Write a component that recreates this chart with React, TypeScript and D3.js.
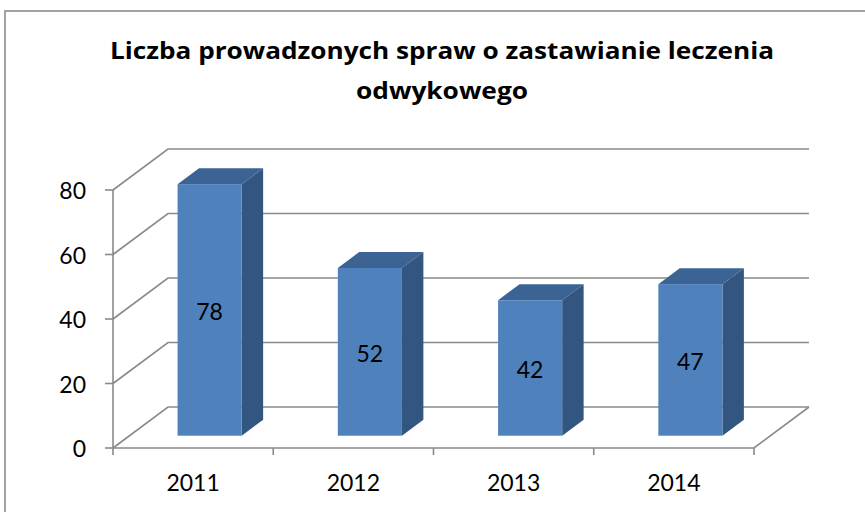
import React from 'react';
import * as d3 from 'd3';

const categories = ['2011', '2012', '2013', '2014'];
const values = [78, 52, 42, 47];
const yTicks = [0, 20, 40, 60, 80];
const titleLines = ['Liczba prowadzonych spraw o zastawianie leczenia', 'odwykowego'];
const titleWidths = [664, 172];

const W = 865;
const H = 512;
const FONT = 'Lato, "Open Sans", sans-serif';
const TITLE_FONT = '"Open Sans", Lato, sans-serif';
const GRID = '#8a8a8a';

export default function App() {
  const x = d3.scaleBand<string>().domain(categories).range([113, 754]).paddingInner(0.6).paddingOuter(0.3);
  const step = x.step();
  const y = d3.scaleLinear().domain([0, 80]).range([448, 190]);
  const dx = 55;
  const dy = -41;
  const f1 = 0.3;
  const f2 = 0.69;
  const x0 = 113;
  const x1 = 754;

  const grid = yTicks.map((t) => {
    const yf = y(t);
    return (
      <g key={'g' + t}>
        <polyline
          points={`${x0},${yf} ${x0 + dx},${yf + dy} ${x1 + dx},${yf + dy}`}
          fill="none"
          stroke={GRID}
          strokeWidth={1.6}
        />
        <line x1={x0 - 8} x2={x0} y1={yf} y2={yf} stroke={GRID} strokeWidth={1.6} />
        <text
          x={86}
          y={yf}
          textAnchor="end"
          dominantBaseline="central"
          fontFamily={FONT}
          fontSize={23}
          fill="#000"
        >
          {t}
        </text>
      </g>
    );
  });

  const bounds = [x0, ...categories.map((c, i) => x0 + step * (i + 1))];

  const bars = categories.map((c, i) => {
    const v = values[i];
    const bw = x.bandwidth();
    const bx = (x(c) as number) + f1 * dx;
    const byTop = y(v) + f1 * dy;
    const byBot = y(0) + f1 * dy;
    const ddx = (f2 - f1) * dx;
    const ddy = (f2 - f1) * dy;
    return (
      <g key={'b' + c}>
        <polygon
          points={`${bx + bw},${byTop} ${bx + bw + ddx},${byTop + ddy} ${bx + bw + ddx},${byBot + ddy} ${bx + bw},${byBot}`}
          fill="#335581"
        />
        <polygon
          points={`${bx},${byTop} ${bx + ddx},${byTop + ddy} ${bx + bw + ddx},${byTop + ddy} ${bx + bw},${byTop}`}
          fill="#3b6393"
        />
        <rect x={bx} y={byTop} width={bw} height={byBot - byTop} fill="#4f81bd" />
        <text
          x={bx + bw / 2}
          y={(byTop + byBot) / 2 + 1}
          textAnchor="middle"
          dominantBaseline="central"
          fontFamily={FONT}
          fontSize={23}
          fill="#000"
        >
          {v}
        </text>
      </g>
    );
  });

  return (
    <svg width={W} height={H} style={{ position: 'absolute', left: 0, top: 0, background: '#fff' }}>
      <rect x={0} y={0} width={W} height={H} fill="#fff" />
      <rect x={5} y={11} width={1000} height={800} fill="#fff" stroke={GRID} strokeWidth={1.6} />
      {titleLines.map((t, i) => (
        <text
          key={'t' + i}
          x={442}
          y={59 + i * 40}
          textAnchor="middle"
          fontFamily={TITLE_FONT}
          fontWeight={700}
          fontSize={24}
          textLength={titleWidths[i]}
          lengthAdjust="spacingAndGlyphs"
          fill="#000"
        >
          {t}
        </text>
      ))}
      {grid}
      <line x1={x0} x2={x0} y1={y(0)} y2={y(80)} stroke={GRID} strokeWidth={1.6} />
      <polyline
        points={`${x0},${y(0)} ${x1},${y(0)} ${x1 + dx},${y(0) + dy}`}
        fill="none"
        stroke={GRID}
        strokeWidth={1.6}
      />
      {bounds.map((b, i) => (
        <line key={'xt' + i} x1={b} x2={b} y1={y(0)} y2={y(0) + 7} stroke={GRID} strokeWidth={1.6} />
      ))}
      {categories.map((c) => (
        <text
          key={'xl' + c}
          x={(x(c) as number) + x.bandwidth() / 2}
          y={482}
          textAnchor="middle"
          dominantBaseline="central"
          fontFamily={FONT}
          fontSize={23}
          fill="#000"
        >
          {c}
        </text>
      ))}
      {bars}
    </svg>
  );
}
